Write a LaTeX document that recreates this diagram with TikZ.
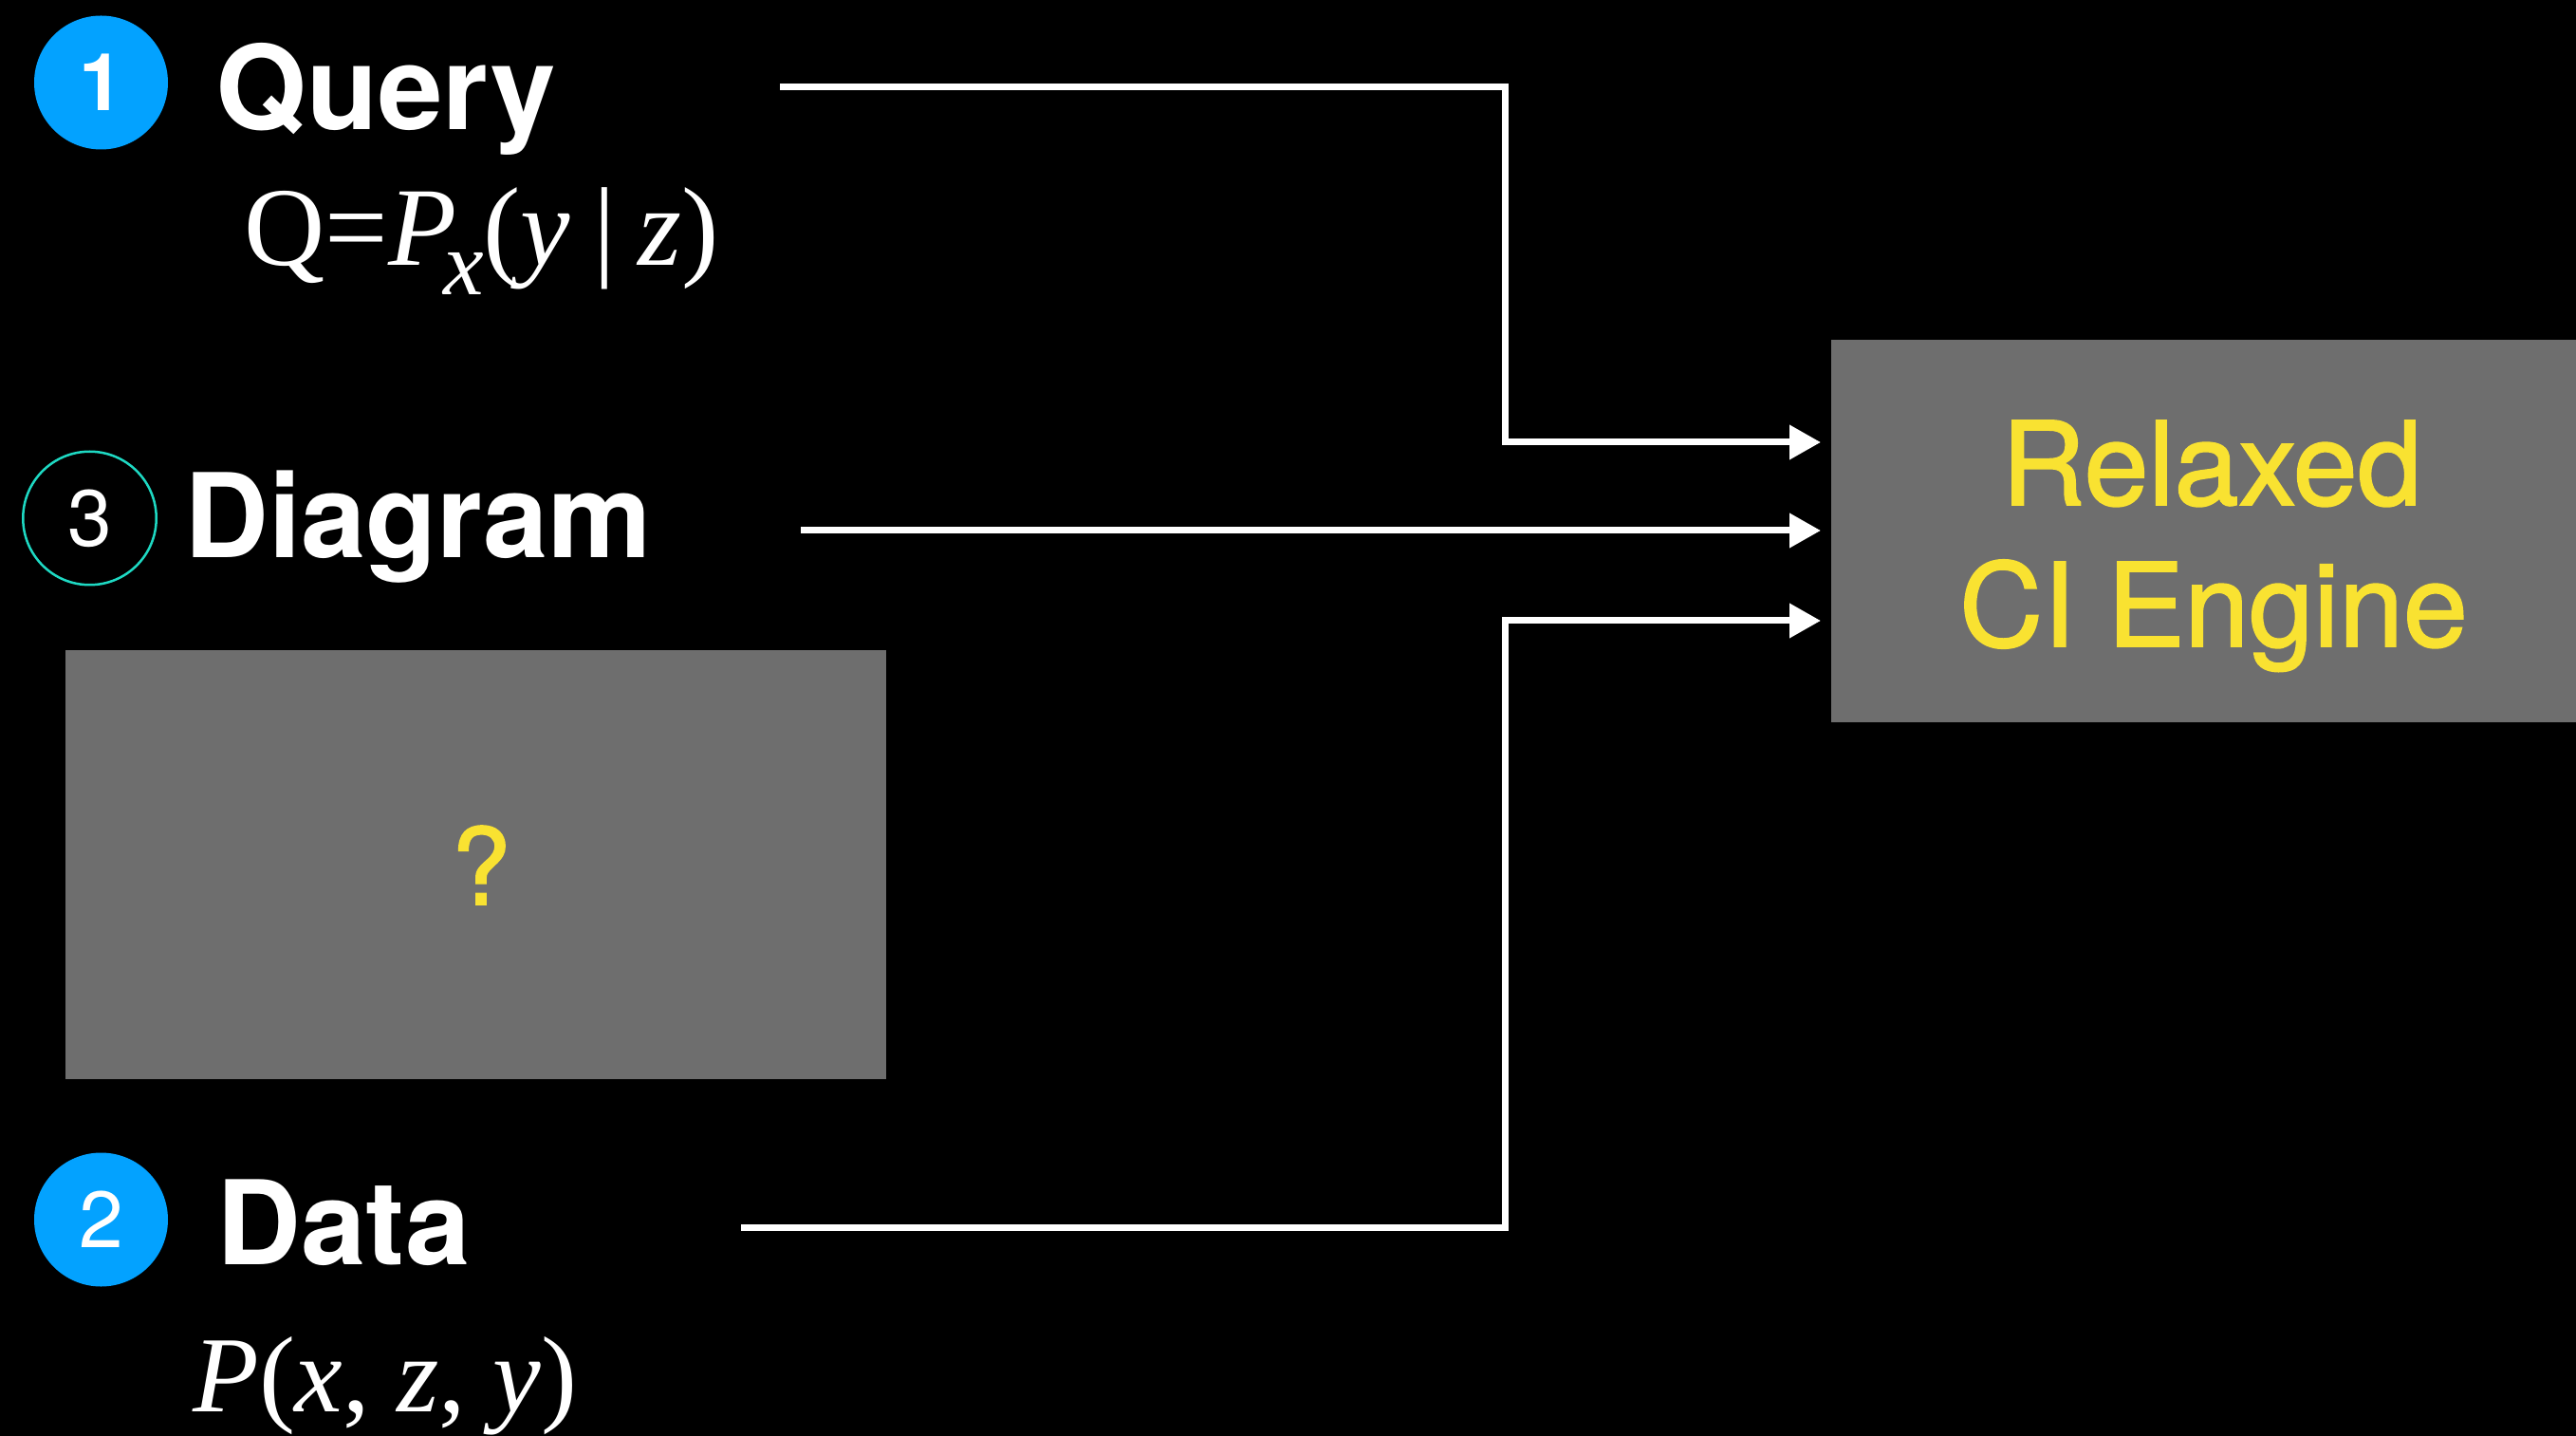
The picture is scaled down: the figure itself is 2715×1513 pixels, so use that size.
\documentclass[tikz,border=0pt]{standalone}
\usepackage{fontspec}
\setmainfont{TeX Gyre Heros}
\newfontfamily\tms{Liberation Serif}
\newfontfamily\medfont[FakeBold=1.5]{TeX Gyre Heros}
\usetikzlibrary{arrows.meta}
\definecolor{boxgray}{HTML}{6E6E6E}
\definecolor{ylw}{HTML}{F9E231}
\definecolor{blu}{HTML}{03A2FF}
\definecolor{tealring}{HTML}{1ED9C3}
\begin{document}
\begin{tikzpicture}[x=0.5pt,y=-0.5pt,
  conn/.style={draw=white, line width=3.5pt, line join=miter,
    -{Triangle[length=16.5pt,width=17.5pt]}},
  numfill/.style={circle, fill=blu, minimum size=70.5pt, inner sep=0pt,
    text=white, font=\bfseries\fontsize{42pt}{42pt}\selectfont},
  numring/.style={circle, draw=tealring, line width=1.25pt, minimum size=70.25pt,
    inner sep=0pt, text=white, font=\fontsize{42pt}{42pt}\selectfont},
  heading/.style={anchor=base west, inner sep=0pt, text=white,
    font=\bfseries\fontsize{61.5pt}{61.5pt}\selectfont},
  mathlbl/.style={anchor=base west, inner sep=0pt, text=white},
  graybox/.style={fill=boxgray, inner sep=0pt},
  ytext/.style={anchor=base, inner sep=0pt, text=ylw,
    font=\medfont\fontsize{61pt}{61pt}\selectfont}]
\useasboundingbox (0,0) rectangle (2715,1513);
\fill[black] (0,0) rectangle (2715,1513);

% numbered markers and headings
\node[numfill] (n1) at (106.5,87) {1};
\node[heading] (query) at (227,137) {Query};
\node[mathlbl] (qexpr) at (257,280) {\tms\fontsize{59pt}{59pt}\selectfont Q=\textit{P}\kern-0.12em\raisebox{-0.26em}{\fontsize{48pt}{48pt}\selectfont\textit{x}}(\textit{y}\hspace{0.2em}|\hspace{0.2em}\textit{z})};

\node[numring] (n3) at (94.5,546) {3};
\node[heading] (diagram) at (194,588) {Diagram};

\node[numfill, font=\fontsize{42pt}{42pt}\selectfont] (n2) at (106.5,1285) {2};
\node[heading] (data) at (228,1332) {Data};
\node[mathlbl] (dexpr) at (203,1487) {\tms\fontsize{57pt}{57pt}\selectfont\textit{P}(\textit{x}, \textit{z}, \textit{y})};

% unknown diagram box
\node[graybox, minimum width=432.5pt, minimum height=226pt] (unk) at (501.5,911) {};
\node[anchor=base, inner sep=0pt, text=ylw, font=\medfont\fontsize{56pt}{56pt}\selectfont] (qm) at (507,953) {?};

% engine
\node[graybox, minimum width=392.5pt, minimum height=201.5pt] (engine) at (2322.5,559.5) {};
\node[ytext] (rel1) at (2331,532) {Relaxed};
\node[ytext] (rel2) at (2333,681) {CI Engine};

% connector end points
\coordinate (qs) at (822,92);
\coordinate (gs) at (844,559);
\coordinate (ds) at (781,1293);
\coordinate (vx) at (1586,0);
\coordinate (qe) at (1919,466);
\coordinate (ge) at (1919,559);
\coordinate (de) at (1919,654);

\draw[conn] (qs) -| (qe -| vx) -- (qe);
\draw[conn] (gs) -- (ge);
\draw[conn] (ds) -| (de -| vx) -- (de);
\end{tikzpicture}
\end{document}
